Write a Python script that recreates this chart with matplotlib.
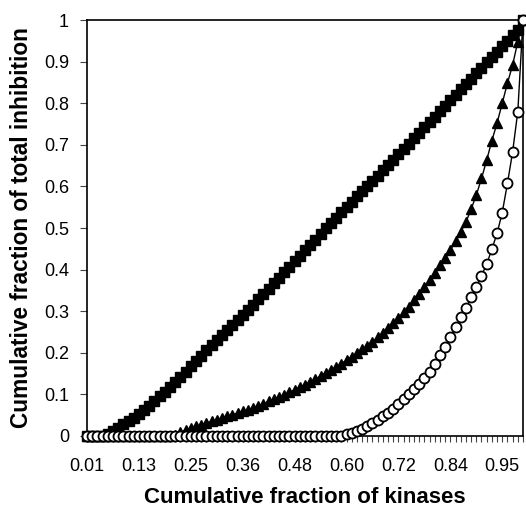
import matplotlib
matplotlib.use("Agg")
import matplotlib.pyplot as plt
import numpy as np

plt.rcParams['font.family'] = ['Liberation Sans', 'DejaVu Sans']

n_points = 85
tick_labels = ["0.01", "0.13", "0.25", "0.36", "0.48", "0.60", "0.72", "0.84", "0.95"]
y_ticks = [0, 0.1, 0.2, 0.3, 0.4, 0.5, 0.6, 0.7, 0.8, 0.9, 1]
y_tick_labels = ["0", "0.1", "0.2", "0.3", "0.4", "0.5", "0.6", "0.7", "0.8", "0.9", "1"]

squares = [0, 0, 0, 0.001, 0.004, 0.011, 0.02, 0.028, 0.036, 0.044,
           0.053, 0.063, 0.073, 0.084, 0.095, 0.106, 0.118, 0.130, 0.143, 0.155,
           0.168, 0.181, 0.193, 0.206, 0.219, 0.231, 0.243, 0.255, 0.267, 0.279,
           0.291, 0.304, 0.316, 0.329, 0.341, 0.354, 0.367, 0.381, 0.394, 0.407,
           0.420, 0.433, 0.446, 0.459, 0.472, 0.486, 0.499, 0.512, 0.525, 0.538,
           0.551, 0.563, 0.576, 0.588, 0.601, 0.613, 0.626, 0.639, 0.651, 0.664,
           0.677, 0.690, 0.703, 0.716, 0.729, 0.742, 0.755, 0.768, 0.781, 0.794,
           0.807, 0.820, 0.833, 0.846, 0.859, 0.872, 0.885, 0.898, 0.911, 0.924,
           0.937, 0.950, 0.963, 0.977, 1.0]

triangles = [0, 0, 0, 0, 0, 0, 0, 0, 0, 0,
             0, 0, 0, 0, 0, 0, 0, 0.003, 0.009, 0.014,
             0.019, 0.023, 0.027, 0.031, 0.035, 0.039, 0.043, 0.047, 0.051, 0.055,
             0.059, 0.063, 0.068, 0.073, 0.078, 0.083, 0.088, 0.093, 0.099, 0.105,
             0.111, 0.117, 0.123, 0.130, 0.137, 0.144, 0.151, 0.158, 0.166, 0.174,
             0.182, 0.190, 0.199, 0.208, 0.217, 0.227, 0.237, 0.248, 0.259, 0.271,
             0.284, 0.297, 0.311, 0.326, 0.342, 0.358, 0.375, 0.392, 0.410, 0.428,
             0.447, 0.468, 0.490, 0.514, 0.545, 0.579, 0.619, 0.663, 0.710, 0.752,
             0.800, 0.848, 0.892, 0.948, 1.0]

circles = [0, 0, 0, 0, 0, 0, 0, 0, 0, 0,
           0, 0, 0, 0, 0, 0, 0, 0, 0, 0,
           0, 0, 0, 0, 0, 0, 0, 0, 0, 0,
           0, 0, 0, 0, 0, 0, 0, 0, 0, 0,
           0, 0, 0, 0, 0, 0, 0, 0, 0, 0,
           0.004, 0.008, 0.013, 0.018, 0.024, 0.031, 0.039, 0.047, 0.056, 0.066,
           0.077, 0.088, 0.100, 0.112, 0.125, 0.139, 0.155, 0.174, 0.195, 0.215,
           0.237, 0.261, 0.285, 0.307, 0.333, 0.359, 0.385, 0.413, 0.449, 0.487,
           0.537, 0.607, 0.683, 0.780, 1.0]

W, H = 526, 511
fig = plt.figure(figsize=(W / 100, H / 100), dpi=100)
ax = fig.add_axes([87 / W, 1 - 436 / H, (523 - 87) / W, (436 - 20) / H])

x = np.arange(n_points)
ax.plot(x, squares, color='black', lw=1, marker='s', ms=7.3, mfc='black', mec='black',
        clip_on=False, zorder=3)
ax.plot(x, triangles, color='black', lw=1, marker='^', ms=7.8, mfc='black', mec='black',
        clip_on=False, zorder=4)
ax.plot(x, circles, color='black', lw=1, marker='o', ms=7.2, mfc='white', mec='black',
        mew=1.3, clip_on=False, zorder=5)

ax.set_xlim(0, n_points - 1)
ax.set_ylim(0, 1)
ax.set_xticks(x, minor=True)
ax.set_xticks(np.arange(0, n_points, 10))
ax.set_xticklabels(tick_labels)
ax.set_yticks(y_ticks)
ax.set_yticklabels(y_tick_labels)
ax.tick_params(axis='x', which='both', length=4, width=0.8, direction='out', pad=12,
               labelsize=13, color='#444444')
ax.tick_params(axis='y', length=5, width=0.8, direction='out', pad=8,
               labelsize=13, color='#444444')
for s in ax.spines.values():
    s.set_linewidth(1.2)
    s.set_color('black')

fig.text(305 / W, 1 - 497 / H, "Cumulative fraction of kinases", ha='center', va='center',
         fontsize=16, fontweight='bold')
fig.text(22 / W, 1 - 228 / H, "Cumulative fraction of total inhibition", ha='center',
         va='center', rotation=90, fontsize=16.3, fontweight='bold')

fig.savefig("out.png", dpi=100)
